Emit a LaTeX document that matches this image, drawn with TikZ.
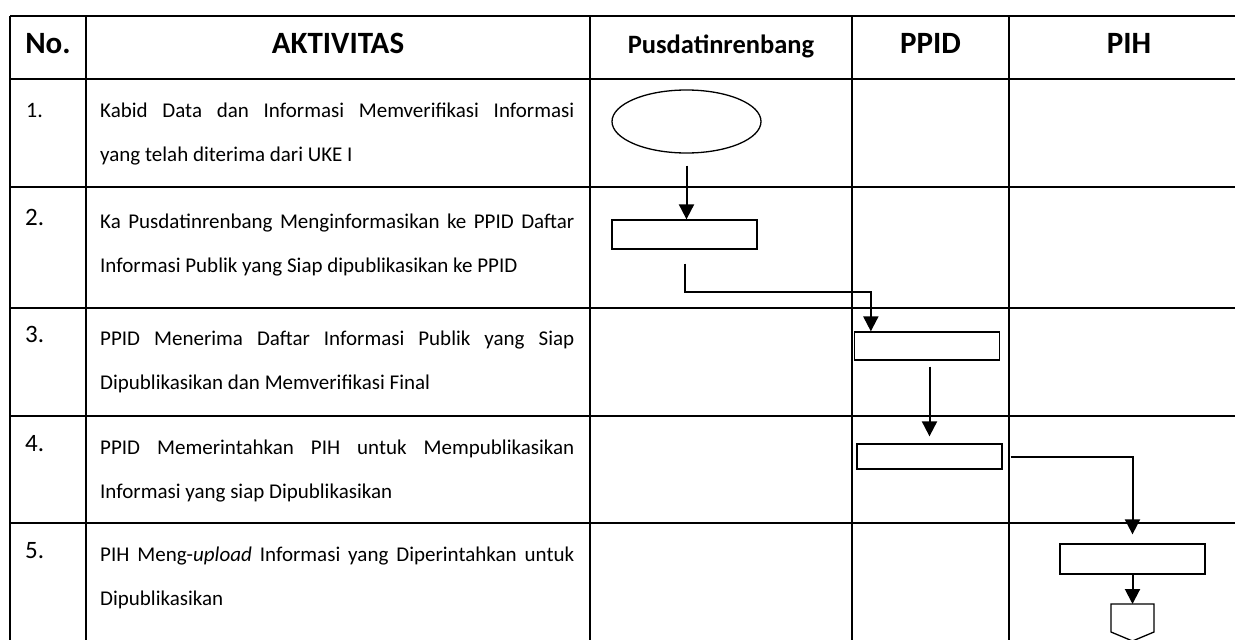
\documentclass[tikz,border=0pt]{standalone}
\usepackage{fontspec}
\setmainfont{Carlito}
\usetikzlibrary{arrows.meta,shapes.geometric}
\tikzset{
  grid/.style={draw=black, line width=2pt},
  box/.style={draw=black, line width=1.3pt, minimum width=145pt, inner sep=0pt},
  oval/.style={ellipse, draw=black, line width=1.3pt, minimum width=149pt, minimum height=63pt, inner sep=0pt},
  shp/.style={draw=black, line width=1.3pt, line join=miter},
  flow/.style={draw=black, line width=2pt, -{Triangle[width=15pt,length=15pt]}},
  hd/.style={font=\bfseries\fontsize{31}{36}\selectfont, anchor=base, inner sep=0pt},
  num/.style={font=\fontsize{25}{30}\selectfont, anchor=base west, inner sep=0pt},
  lab/.style={font=\fontsize{21}{44}\selectfont, text width=474pt, align=justify, anchor=base west, inner sep=0pt},
}
\begin{document}
\begin{tikzpicture}[x=1pt, y=-1pt]
  \useasboundingbox (0,0) rectangle (1235,640);
  \clip (0,0) rectangle (1235,640);
  \fill[white] (0,0) rectangle (1235,640);
  \foreach \y in {16,79,187,308,416,523} \draw[grid] (10,\y) -- (1255,\y);
  \foreach \x in {10,86,590,852,1009} \draw[grid] (\x,16) -- (\x,650);

  \node[hd] (hno) at (48,53) {No.};
  \node[hd] (hakt) at (338,53) {AKTIVITAS};
  \node[hd, font=\bfseries\fontsize{26.5}{30}\selectfont] (hpus) at (721,53) {Pusdatinrenbang};
  \node[hd] (hppid) at (930.5,53) {PPID};
  \node[hd] (hpih) at (1129,53) {PIH};

  \node[num, font=\fontsize{22}{26}\selectfont] (n1) at (26,117) {1.};
  \node[num] (n2) at (25,225) {2.};
  \node[num] (n3) at (25,342) {3.};
  \node[num] (n4) at (25,451) {4.};
  \node[num] (n5) at (25,558) {5.};

  \node[lab] (t1) at (100,117) {Kabid Data dan Informasi Memverifikasi Informasi\linebreak yang telah diterima dari UKE I};
  \node[lab] (t2) at (100,228) {Ka Pusdatinrenbang Menginformasikan ke PPID Daftar\linebreak Informasi Publik yang Siap dipublikasikan ke PPID};
  \node[lab] (t3) at (100,345) {PPID Menerima Daftar Informasi Publik yang Siap\linebreak Dipublikasikan dan Memverifikasi Final};
  \node[lab] (t4) at (100,454) {PPID Memerintahkan PIH untuk Mempublikasikan\linebreak Informasi yang siap Dipublikasikan};
  \node[lab] (t5) at (100,561) {PIH Meng-\textit{upload} Informasi yang Diperintahkan untuk\linebreak Dipublikasikan};

  \node[oval] (ell) at (686.5,121.5) {};
  \node[box, minimum height=29pt] (r1) at (684.5,234.5) {};
  \node[box, minimum height=28pt] (r3) at (927,346) {};
  \node[box, minimum height=25pt] (r4) at (929.5,456.5) {};
  \node[box, minimum height=30pt] (r5) at (1132.5,559) {};
  \coordinate (off) at (1132.5,604);
  \draw[shp] (off) -- ++(21.5,0) -- ++(0,28) -- ++(-21.5,9) -- ++(-21.5,-9) -- ++(0,-28) -- cycle;

  \draw[flow, shorten <=12pt] (ell.south) -- (ell.south |- r1.north);
  \draw[flow, shorten <=14pt] (r1.south) -- ++(0,42) -| ([xshift=17pt]r3.north west);
  \draw[flow, shorten <=6pt, shorten >=7pt] (r3.south -| r4.north) -- (r4.north);
  \draw[flow, shorten <=8pt, shorten >=9pt] (r4.east) -| (r5.north);
  \draw[flow] (r5.south) -- (off);
\end{tikzpicture}
\end{document}
